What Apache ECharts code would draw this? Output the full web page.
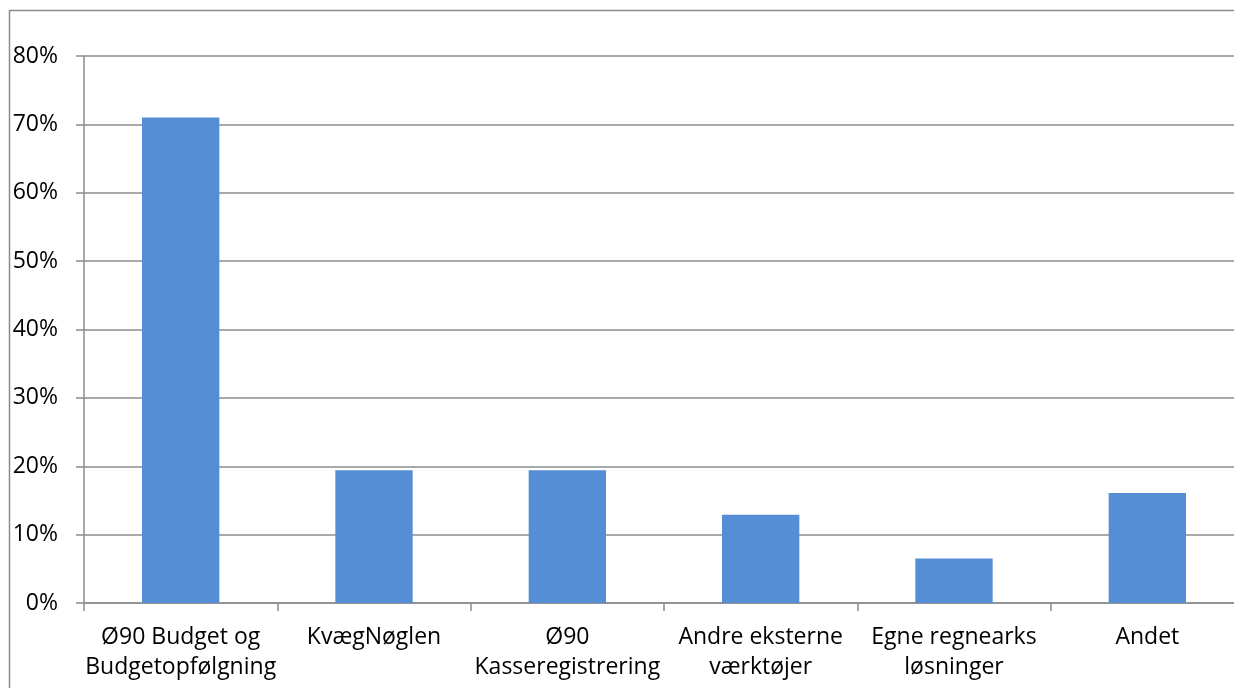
<!DOCTYPE html>
<html><head><meta charset="utf-8">
<script src="https://cdn.jsdelivr.net/npm/echarts@6/dist/echarts.min.js"></script>
<style>html,body{margin:0;padding:0;background:#fff;overflow:hidden}#c{width:1234px;height:688px}</style>
</head><body><div id="c"></div>
<script>
const categories = ["Ø90 Budget og\nBudgetopfølgning", "KvægNøglen", "Ø90\nKasseregistrering", "Andre eksterne\nværktøjer", "Egne regnearks\nløsninger", "Andet"];
const values = [71.0, 19.4, 19.4, 12.9, 6.5, 16.1];
const font = "Open Sans";
const chart = echarts.init(document.getElementById('c'), null, {renderer: 'canvas'});
chart.setOption({
  animation: false,
  graphic: [
    {type: 'polyline', shape: {points: [[9.5, 700], [9.5, 10.5], [1300, 10.5]]}, style: {fill: null, stroke: '#8c8c8c', lineWidth: 1.5}, silent: true}
  ],
  grid: {left: 84, width: 1160, top: 56, bottom: 85, containLabel: false, outerBoundsMode: 'none'},
  xAxis: {
    type: 'category', data: categories,
    axisLine: {lineStyle: {color: '#8c8c8c', width: 1.5}},
    axisTick: {show: true, length: 8, alignWithLabel: false, lineStyle: {color: '#8c8c8c', width: 1.5}},
    axisLabel: {interval: 0, margin: 19, fontFamily: font, fontSize: 23, color: '#000', lineHeight: 30}
  },
  yAxis: {
    type: 'value', min: 0, max: 80, interval: 10,
    axisLine: {show: true, lineStyle: {color: '#8c8c8c', width: 1.5}},
    axisTick: {show: true, length: 8, lineStyle: {color: '#8c8c8c', width: 1.5}},
    splitLine: {lineStyle: {color: '#8c8c8c', width: 1.5}},
    axisLabel: {formatter: '{value}%', margin: 26, fontFamily: font, fontSize: 23, color: '#000'}
  },
  series: [{type: 'bar', data: values, barWidth: '40%', itemStyle: {color: '#558ed5'}}]
});
</script></body></html>
